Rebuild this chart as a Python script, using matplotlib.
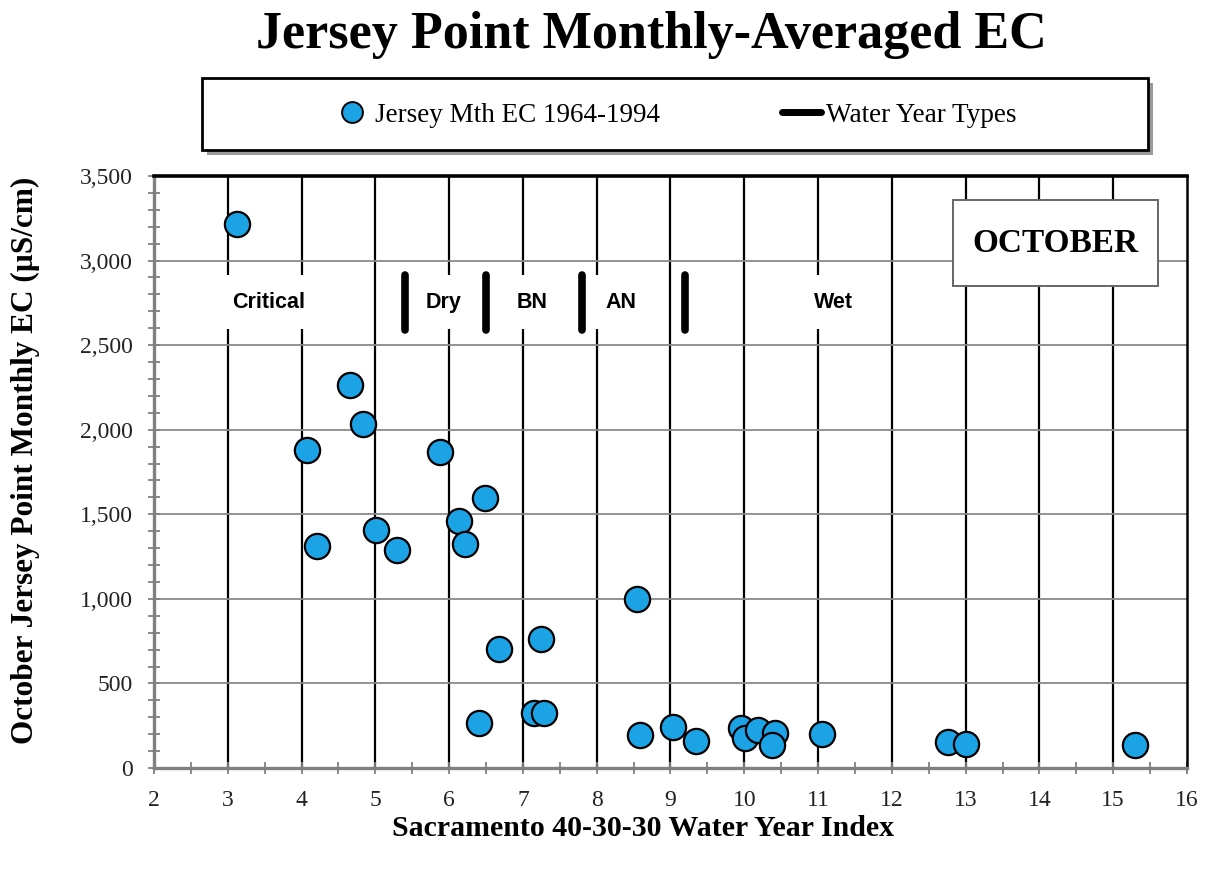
import matplotlib
matplotlib.use("Agg")
import matplotlib.pyplot as plt
from matplotlib.lines import Line2D
from matplotlib.patches import Rectangle
from matplotlib.ticker import MultipleLocator, FuncFormatter

# ---- data ----
wy_index = [3.12, 4.08, 4.21, 4.66, 4.83, 5.01, 5.29, 5.87, 6.13, 6.21,
            6.48, 6.41, 6.67, 7.24, 7.15, 7.29, 8.54, 8.58, 9.03, 9.34,
            9.96, 10.01, 10.18, 10.42, 10.37, 11.06, 12.76, 13.00, 15.30]
oct_ec = [3216, 1880, 1315, 2263, 2032, 1406, 1291, 1868, 1461, 1327,
          1598, 264, 701, 764, 323, 323, 1000, 193, 244, 159,
          235, 176, 225, 205, 136, 199, 152, 142, 136]

wyt_bounds = [5.4, 6.5, 7.8, 9.2]
wyt_labels = ["Critical", "Dry", "BN", "AN", "Wet"]
wyt_label_x = [3.56, 5.93, 7.13, 8.33, 11.21]
wyt_label_y = 2755
wyt_seg = (2590, 2915)

series_label = "Jersey Mth EC 1964-1994"
wyt_legend = "Water Year Types"
month_label = "OCTOBER"

BLUE = "#1BA3E6"
GRAY = "#808080"

fig = plt.figure(figsize=(12.07, 8.69), dpi=100)
ax = fig.add_axes([154/1207, 1-768/869, (1187-154)/1207, (768-176)/869])

ax.set_xlim(2, 16)
ax.set_ylim(0, 3500)

# gridlines
ax.xaxis.set_major_locator(MultipleLocator(1))
ax.xaxis.set_minor_locator(MultipleLocator(0.5))
ax.yaxis.set_major_locator(MultipleLocator(500))
ax.yaxis.set_minor_locator(MultipleLocator(100))
ax.yaxis.set_major_formatter(FuncFormatter(lambda v, p: f"{int(v):,}"))
ax.grid(axis="y", which="major", color="#8a8a8a", lw=1.3, zorder=1)
for xv in range(3, 16):
    ax.axvline(xv, color="black", lw=1.6, zorder=1)

# spines
for s in ("left", "bottom"):
    ax.spines[s].set_color(GRAY)
    ax.spines[s].set_linewidth(2.4)
ax.spines["top"].set_color("black")
ax.spines["top"].set_linewidth(2.6)
ax.spines["right"].set_color("black")
ax.spines["right"].set_linewidth(1.8)
for s in ax.spines.values():
    s.set_zorder(5)

ax.tick_params(axis="both", which="both", direction="inout", color=GRAY,
               width=1.3, length=9)
ax.tick_params(axis="y", which="both", pad=11)
ax.tick_params(axis="x", which="both", pad=11)
ax.tick_params(axis="both", labelsize=17)
for lab in ax.get_xticklabels() + ax.get_yticklabels():
    lab.set_fontfamily("Liberation Serif")
    lab.set_color("#222222")

# water-year type labels with white boxes
for lx, lt in zip(wyt_label_x, wyt_labels):
    ax.text(lx, wyt_label_y, lt, ha="center", va="center", fontsize=15.5,
            fontweight="bold", family="Liberation Sans", zorder=2,
            bbox=dict(boxstyle="square,pad=0.75", fc="white", ec="none"))

# water-year type separators
ax.vlines(wyt_bounds, wyt_seg[0], wyt_seg[1], color="black", lw=5.5,
          capstyle="round", zorder=3)

# scatter
ax.scatter(wy_index, oct_ec, s=330, c=BLUE, edgecolors="black",
           linewidths=1.6, zorder=4, clip_on=False)

# month box
ax.add_patch(Rectangle((0.7735, 0.814), 0.972-0.7735, 0.959-0.814,
                       transform=ax.transAxes, fc="white", ec="#666666",
                       lw=1.4, zorder=3))
ax.text((0.7735+0.972)/2, (0.814+0.959)/2, month_label, transform=ax.transAxes,
        ha="center", va="center", fontsize=24, fontweight="bold",
        family="Liberation Serif", zorder=4)

# titles / labels
fig.text(651/1207, 1-35/869, "Jersey Point Monthly-Averaged EC", ha="center",
         va="center", fontsize=37.5, fontweight="bold", family="Liberation Serif")
fig.text(643/1207, 1-828/869, "Sacramento 40-30-30 Water Year Index",
         ha="center", va="center", fontsize=21.5, fontweight="bold",
         family="Liberation Serif")
fig.text(25/1207, 1-460/869, "October Jersey Point Monthly EC (µS/cm)",
         ha="center", va="center", rotation=90, fontsize=22.5,
         fontweight="bold", family="Liberation Serif")

# legend frame with shadow
lx0, ly0, lx1, ly1 = 202/1207, 1-150/869, 1148/1207, 1-78/869
fig.patches.append(Rectangle((lx0+5/1207, ly0-5/869), lx1-lx0, ly1-ly0,
                             transform=fig.transFigure, fc="#9a9a9a",
                             ec="none", zorder=0))
fig.patches.append(Rectangle((lx0, ly0), lx1-lx0, ly1-ly0,
                             transform=fig.transFigure, fc="white",
                             ec="black", lw=2.0, zorder=1))
handles = [Line2D([], [], ls="none", marker="o", ms=15, mfc=BLUE,
                  mec="black", mew=1.4),
           Line2D([], [], color="black", lw=5, solid_capstyle="round")]
fig.legend(handles, [series_label, wyt_legend], loc="center",
           bbox_to_anchor=(674/1207, 1-115/869), ncol=2, frameon=False,
           prop=dict(family="Liberation Serif", size=19.5),
           handlelength=1.45, handletextpad=0.15, columnspacing=4.5)

fig.savefig("out.png", dpi=100)
